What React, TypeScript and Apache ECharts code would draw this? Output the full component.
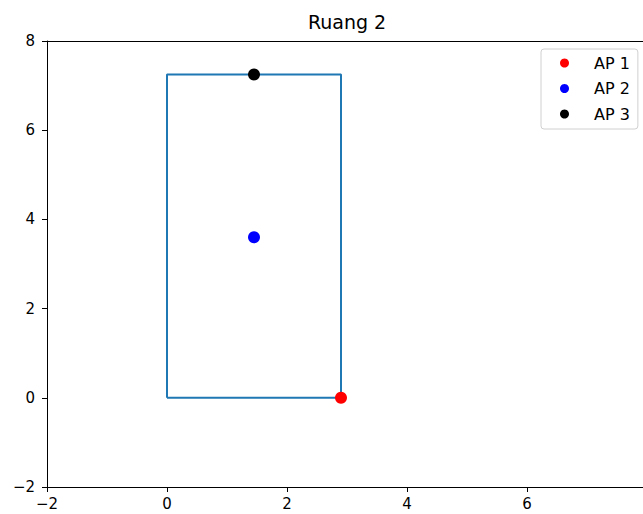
import React, { useEffect, useRef } from "react";
import * as echarts from "echarts";

const roomX = [0, 2.9, 2.9, 0, 0];
const roomY = [0, 0, 7.25, 7.25, 0];
const apNames = ["AP 1", "AP 2", "AP 3"];
const apX = [2.9, 1.45, 1.45];
const apY = [0, 3.6, 7.25];
const apColors = ["#ff0000", "#0000ff", "#000000"];
const titleText = "Ruang 2";

const FONT = "DejaVu Sans";
const fmt = (v: number) => String(v).replace("-", "\u2212");

export default function App() {
  const ref = useRef<HTMLDivElement>(null);
  useEffect(() => {
    if (!ref.current) return;
    const chart = echarts.init(ref.current, undefined, { renderer: "svg" });
    const axisCommon = {
      type: "value" as const,
      min: -2,
      max: 8,
      interval: 2,
      splitLine: { show: false },
      axisLine: { show: true, onZero: false, lineStyle: { color: "#000", width: 1 } },
      axisTick: { show: true, inside: false, length: 5, lineStyle: { color: "#000", width: 1 } },
    };
    chart.setOption({
      animation: false,
      backgroundColor: "#ffffff",
      title: {
        text: titleText,
        left: 347,
        top: 12,
        padding: 0,
        textAlign: "center",
        textStyle: { fontFamily: FONT, fontSize: 19, fontWeight: "normal", color: "#000" },
      },
      legend: {
        left: 541,
        top: 49,
        orient: "vertical",
        data: apNames,
        icon: "circle",
        itemWidth: 9,
        itemHeight: 9,
        itemGap: 9.5,
        padding: [6, 8, 7, 19],
        backgroundColor: "#ffffff",
        borderColor: "#d0d0d0",
        borderWidth: 1,
        borderRadius: 3,
        textStyle: {
          fontFamily: FONT,
          fontSize: 16,
          color: "#000",
          lineHeight: 16,
          padding: [0, 0, 0, 20],
        },
      },
      grid: { left: 47, top: 41, width: 600, height: 446, containLabel: false, outerBoundsMode: "none" },
      xAxis: [
        {
          ...axisCommon,
          position: "bottom",
          axisLabel: {
            fontFamily: FONT,
            fontSize: 15,
            color: "#000",
            margin: 9,
            formatter: fmt,
            showMaxLabel: false,
          },
        },
        {
          ...axisCommon,
          position: "top",
          axisTick: { show: false },
          axisLabel: { show: false },
        },
      ],
      yAxis: {
        ...axisCommon,
        axisLabel: { fontFamily: FONT, fontSize: 15, color: "#000", margin: 12, formatter: fmt },
      },
      series: [
        {
          type: "line",
          name: "room",
          data: roomX.map((x, i) => [x, roomY[i]]),
          showSymbol: false,
          symbol: "none",
          lineStyle: { color: "#1f77b4", width: 2 },
          itemStyle: { color: "#1f77b4" },
          z: 2,
        },
        ...apNames.map((n, i) => ({
          type: "scatter",
          name: n,
          data: [[apX[i], apY[i]]],
          symbol: "circle",
          symbolSize: 12,
          itemStyle: { color: apColors[i], opacity: 1 },
          z: 3,
        })),
      ],
    });
    return () => chart.dispose();
  }, []);
  return (
    <div
      ref={ref}
      style={{ position: "fixed", left: 0, top: 0, width: 643, height: 514, background: "#fff" }}
    />
  );
}
